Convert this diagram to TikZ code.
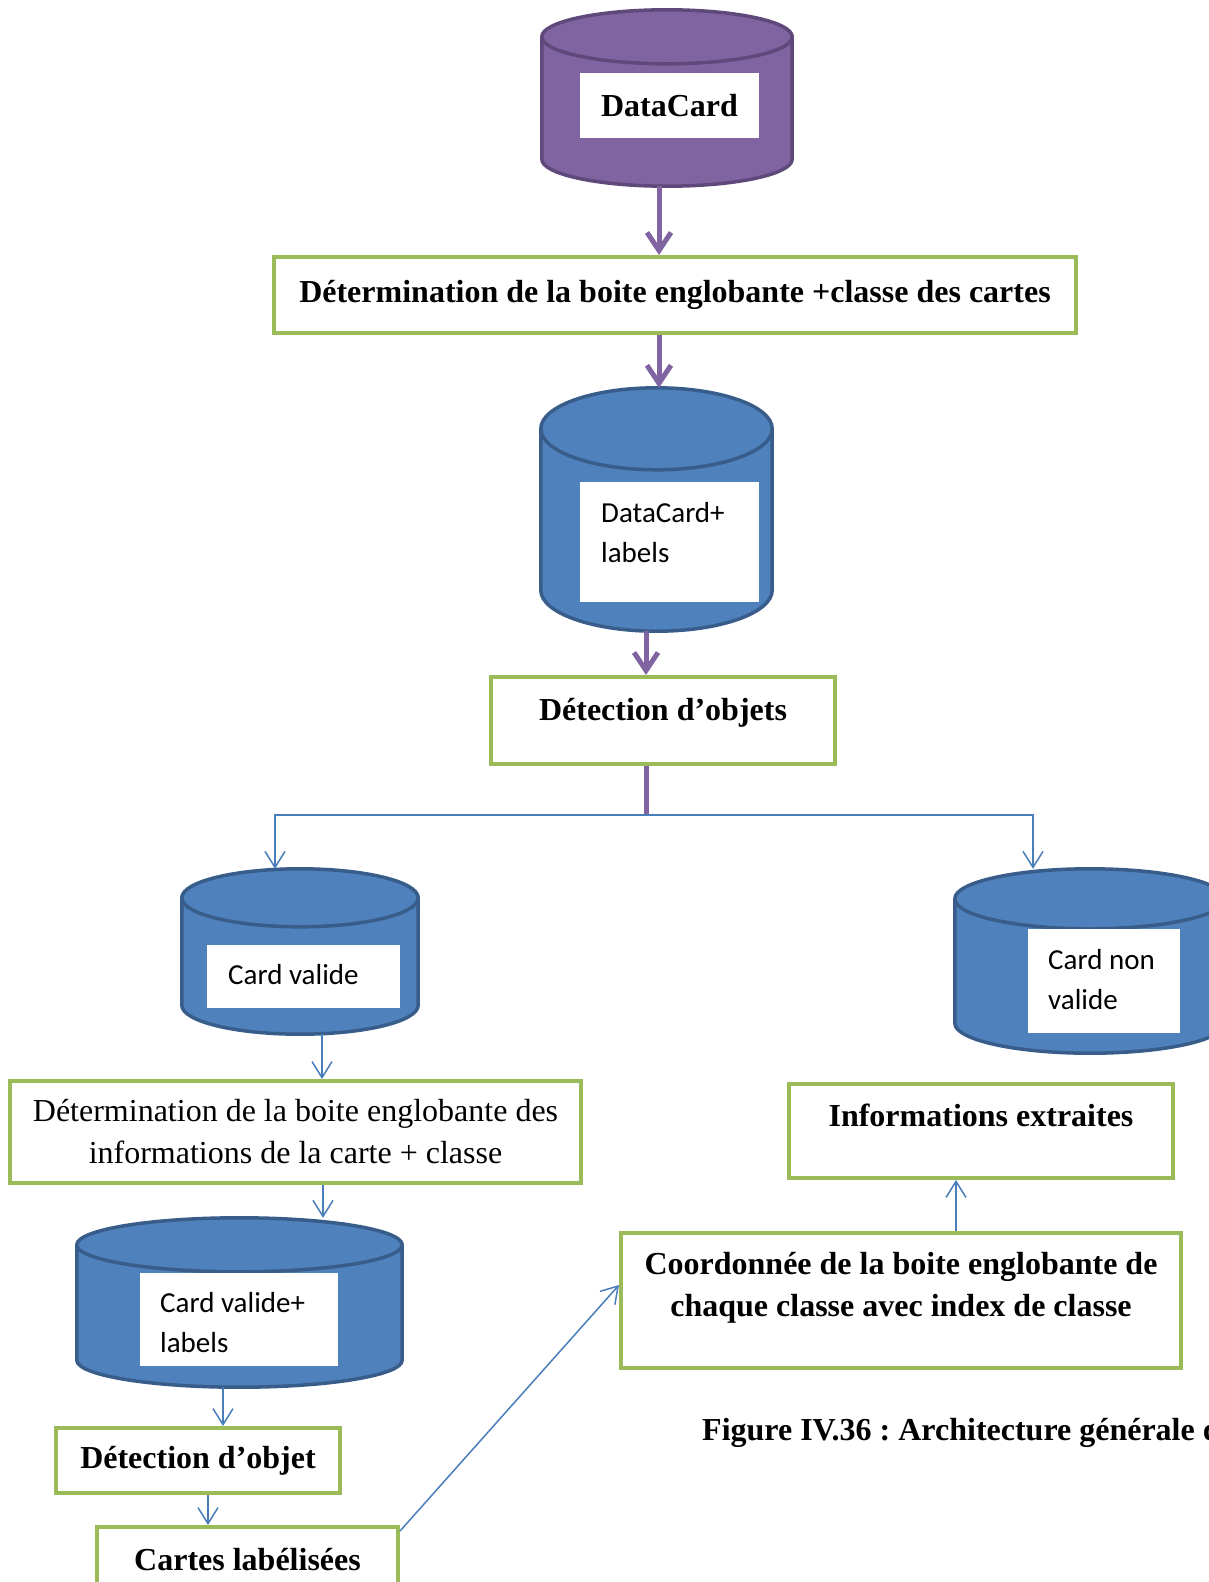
\documentclass[tikz,border=0pt]{standalone}
\usepackage{fontspec}
\setmainfont{Liberation Serif}
\newfontfamily\calibri{Carlito}
\usetikzlibrary{arrows.meta,calc}

\definecolor{plumfill}{HTML}{8064A2}
\definecolor{plumline}{HTML}{5F497A}
\definecolor{steelfill}{HTML}{4F81BD}
\definecolor{steelline}{HTML}{385D8A}
\definecolor{leaf}{HTML}{9BBB59}
\definecolor{wire}{HTML}{4A7EBB}

% Database drum drawn over the extent of a holder node:
% #1 holder node, #2 half-height of the end ellipses (pt), #3 fill, #4 outline
\newcommand\drum[4]{%
  \path[fill=#3, draw=#4, line width=3.5pt]
    let \p1=(#1.north west), \p2=(#1.south east), \n1={(\x2-\x1)/2} in
    (\x1,\y1-#2pt) -- (\x1,\y2+#2pt)
      arc[start angle=180, end angle=360, x radius=\n1, y radius=#2pt]
      -- (\x2,\y1-#2pt)
      arc[start angle=0, end angle=180, x radius=\n1, y radius=#2pt] -- cycle
    (\x1,\y1-#2pt)
      arc[start angle=180, end angle=540, x radius=\n1, y radius=#2pt];
}

\begin{document}
\begin{tikzpicture}[x=1pt,y=-1pt,
  holder/.style={rectangle, inner sep=0pt, draw=none},
  tag/.style={rectangle, fill=white, inner sep=0pt},
  tagtext/.style={anchor=west, inner sep=0pt, align=left,
    font=\calibri\fontsize{29}{40}\selectfont},
  stepbox/.style={rectangle, draw=leaf, line width=4pt, inner sep=0pt,
    align=center, font=\fontsize{32}{42}\selectfont\bfseries},
  plainstep/.style={stepbox, font=\fontsize{32}{42}\selectfont},
  flow/.style={draw=plumfill, line width=5pt,
    -{Straight Barb[length=18pt,width=24pt]}},
  trunk/.style={draw=plumfill, line width=5pt},
  wireline/.style={draw=wire, line width=1.5pt,
    -{Straight Barb[length=16pt,width=20pt]}}
]
\useasboundingbox[fill=white] (0,0) rectangle (1208,1582);

% ---- source database ----
\node[holder, minimum width=250pt, minimum height=176pt] (dc) at (667,98) {};
\drum{dc}{27}{plumfill}{plumline}
\node[tag, minimum width=179pt, minimum height=65pt,
      font=\fontsize{32}{38}\selectfont\bfseries] (dctag) at (669.5,105.5) {DataCard};

% ---- first processing step ----
\node[stepbox, minimum width=802pt, minimum height=76pt] (g1) at (675,295)
  {Détermination de la boite englobante +classe des cartes};

% ---- labelled database ----
\node[holder, minimum width=231pt, minimum height=243pt] (dcl) at (656.5,509.5) {};
\drum{dcl}{41}{steelfill}{steelline}
\node[tag, minimum width=179pt, minimum height=120pt] (dcltag) at (669.5,542) {};
\node[tagtext] (dcltxt) at (601,533) {DataCard+\\labels};

% ---- object detection ----
\node[stepbox, minimum width=344pt, minimum height=87pt,
      text height=43pt, text depth=44pt] (g2) at (663,720.5) {Détection d’objets};

% ---- valid / invalid cards ----
\node[holder, minimum width=236pt, minimum height=165pt] (cv) at (300,951.5) {};
\drum{cv}{29}{steelfill}{steelline}
\node[tag, minimum width=193pt, minimum height=63pt] (cvtag) at (303.5,976.5) {};
\node[tagtext] (cvtxt) at (228,975) {Card valide};

\node[holder, minimum width=270pt, minimum height=184pt] (cnv) at (1090,961) {};
\drum{cnv}{30}{steelfill}{steelline}
\node[tag, minimum width=152pt, minimum height=104pt] (cnvtag) at (1104,981) {};
\node[tagtext] (cnvtxt) at (1048,979.5) {Card non\\valide};

% ---- left branch ----
\node[plainstep, minimum width=571pt, minimum height=102pt] (g3) at (295.5,1132)
  {Détermination de la boite englobante des\\informations de la carte + classe};

\node[holder, minimum width=325pt, minimum height=169pt] (cvl) at (239.5,1302.5) {};
\drum{cvl}{27}{steelfill}{steelline}
\node[tag, minimum width=198pt, minimum height=93pt] (cvltag) at (239,1319.5) {};
\node[tagtext] (cvltxt) at (160,1323) {Card valide+\\labels};

\node[stepbox, minimum width=284pt, minimum height=65pt] (g4) at (198,1460.5) {Détection d’objet};
\node[stepbox, minimum width=301pt, minimum height=65pt] (g5) at (247.5,1559.5) {Cartes labélisées};

% ---- right branch ----
\node[stepbox, minimum width=560pt, minimum height=135pt] (g6) at (901,1300.5) {};
\node[inner sep=0pt, align=center, font=\fontsize{32}{42}\selectfont\bfseries]
  (g6txt) at (901,1288)
  {Coordonnée de la boite englobante de\\chaque classe avec index de classe};

\node[stepbox, minimum width=384pt, minimum height=94pt,
      text height=42pt, text depth=52pt] (g7) at (981,1131) {Informations extraites};

\node[anchor=base west, inner sep=0pt, font=\fontsize{32}{38}\selectfont\bfseries\frenchspacing]
  (caption) at (702,1440) {Figure IV.36 : Architecture générale de};

% ---- connectors ----
\draw[flow] ([xshift=-8pt]dc.south) -- ([xshift=-16pt]g1.north);
\draw[flow] ([xshift=-16pt]g1.south) -- ([xshift=2.5pt]dcl.north);
\draw[flow] ([xshift=-10.5pt]dcl.south) -- ([xshift=-17pt]g2.north);
\coordinate (fork) at (646,815);
\draw[trunk] ([xshift=-17pt]g2.south) -- (fork);
\draw[wireline] (fork) -| ([xshift=-25pt]cv.north);
\draw[wireline] (fork) -| ([xshift=-57pt]cnv.north);

\draw[wireline] ([xshift=22pt]cv.south) -- ([xshift=26.5pt]g3.north);
\draw[wireline] ([xshift=27.5pt]g3.south) -- ([xshift=83.5pt]cvl.north);
\draw[wireline] ([xshift=-16.5pt]cvl.south) -- ([xshift=25pt]g4.north);
\draw[wireline] ([xshift=10pt]g4.south) -- ([xshift=-39.5pt]g5.north);
\draw[wireline] ([yshift=-6pt]g5.north east) -- ([yshift=15.5pt]g6.west);
\draw[wireline] ([xshift=55pt]g6.north) -- ([xshift=-25pt]g7.south);
\end{tikzpicture}
\end{document}
